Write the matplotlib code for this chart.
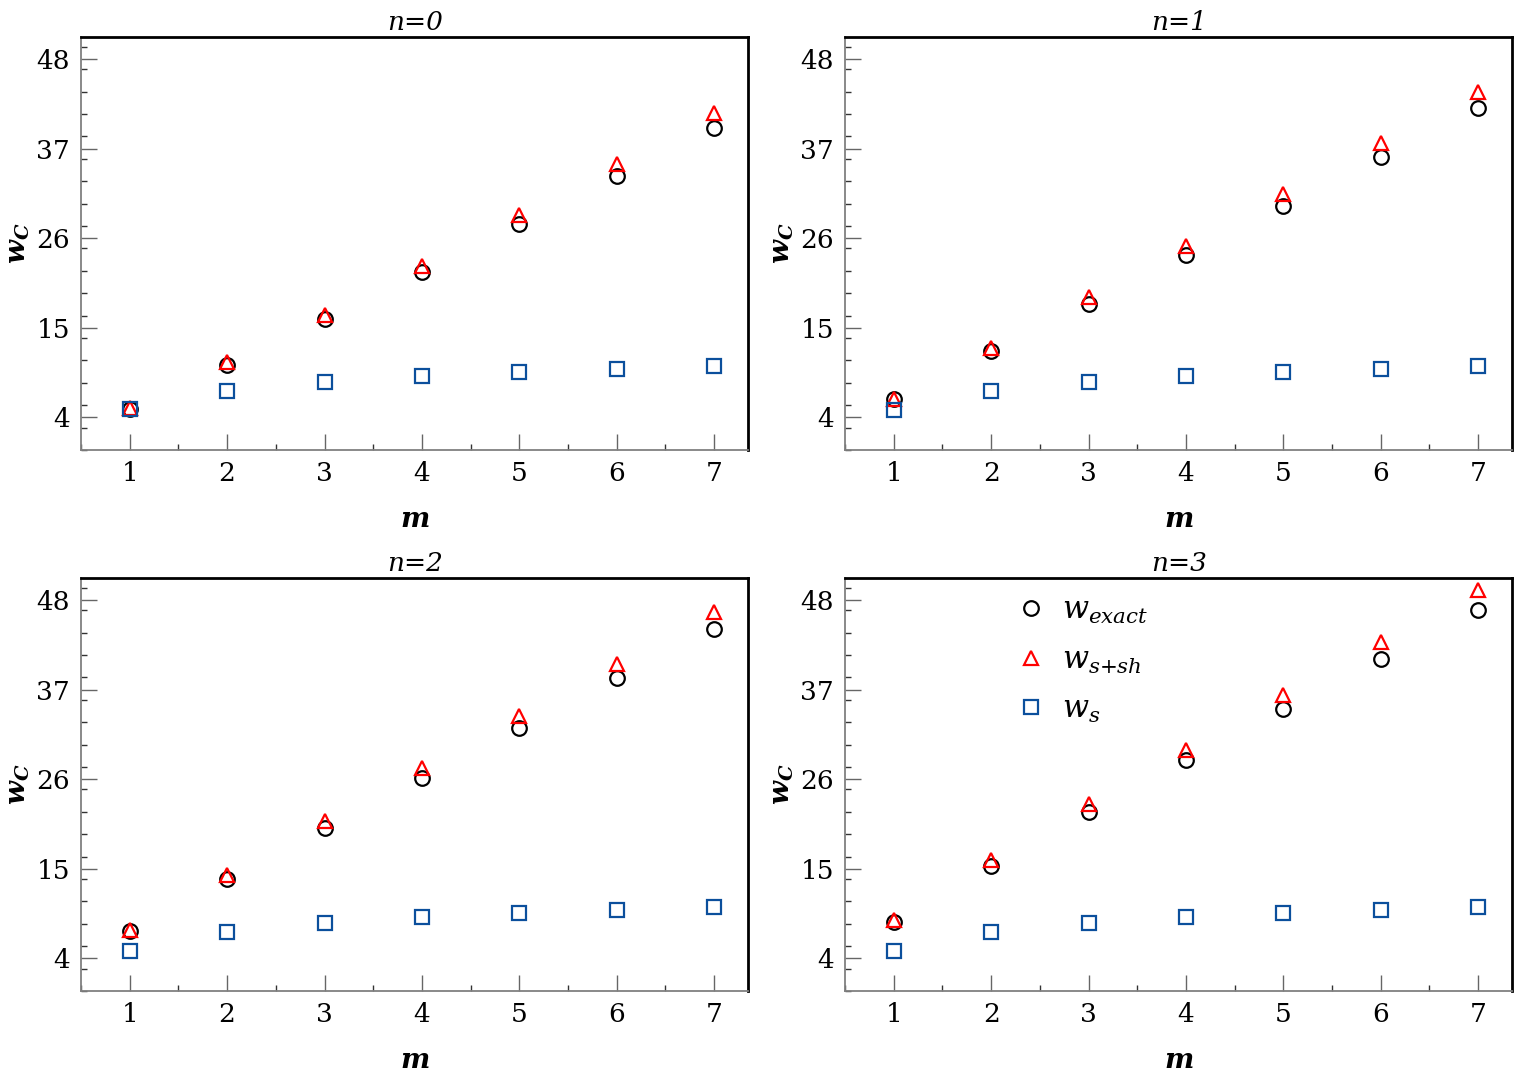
import matplotlib
matplotlib.use("Agg")
import matplotlib.pyplot as plt
from matplotlib.ticker import MultipleLocator

plt.rcParams['font.family'] = ['DejaVu Serif']
plt.rcParams['mathtext.fontset'] = 'custom'
plt.rcParams['mathtext.rm'] = 'DejaVu Serif'
plt.rcParams['mathtext.it'] = 'DejaVu Serif:italic'
plt.rcParams['mathtext.bf'] = 'DejaVu Serif:bold:italic'

# data
m = [1, 2, 3, 4, 5, 6, 7]
panel_titles = ["n=0", "n=1", "n=2", "n=3"]

w_exact = [
    [5.0, 10.4, 16.1, 21.9, 27.7, 33.6, 39.5],
    [6.25, 12.1, 17.9, 24.0, 30.0, 36.0, 42.0],
    [7.4, 13.75, 20.0, 26.2, 32.3, 38.4, 44.5],
    [8.5, 15.4, 22.0, 28.4, 34.6, 40.8, 46.8],
]
w_s_sh = [
    [5.1, 10.8, 16.6, 22.6, 28.9, 35.1, 41.4],
    [6.3, 12.5, 18.8, 25.0, 31.4, 37.7, 44.0],
    [7.5, 14.2, 20.9, 27.4, 33.8, 40.1, 46.5],
    [8.7, 16.1, 22.9, 29.6, 36.3, 42.8, 49.2],
]
w_s = [
    [5.0, 7.2, 8.4, 9.1, 9.6, 10.0, 10.3],
    [4.9, 7.2, 8.4, 9.1, 9.6, 10.0, 10.3],
    [4.9, 7.2, 8.3, 9.1, 9.6, 10.0, 10.3],
    [4.9, 7.2, 8.3, 9.1, 9.6, 10.0, 10.3],
]
y_ticks = [4, 15, 26, 37, 48]

blue = '#0b4f9c'
fig = plt.figure(figsize=(15.15, 10.8), dpi=100)

positions = [
    [0.0535, 0.5833, 0.4403, 0.3824],
    [0.5578, 0.5833, 0.4403, 0.3824],
    [0.0535, 0.0824, 0.4403, 0.3824],
    [0.5578, 0.0824, 0.4403, 0.3824],
]

for i in range(4):
    ax = fig.add_axes(positions[i])
    ax.plot(m, w_exact[i], linestyle='none', marker='o', markersize=10.5,
            markerfacecolor='none', markeredgecolor='black', markeredgewidth=1.6,
            label=r'$w_{exact}$')
    ax.plot(m, w_s_sh[i], linestyle='none', marker='^', markersize=10.5,
            markerfacecolor='none', markeredgecolor='red', markeredgewidth=1.6,
            label=r'$w_{s{+}sh}$')
    ax.plot(m, w_s[i], linestyle='none', marker='s', markersize=10,
            markerfacecolor='none', markeredgecolor=blue, markeredgewidth=1.6,
            label=r'$w_s$')

    ax.set_xlim(0.5, 7.35)
    ax.set_ylim(0, 50.7)
    ax.set_xticks(m)
    ax.set_yticks(y_ticks)
    ax.xaxis.set_minor_locator(MultipleLocator(0.5))
    ax.yaxis.set_minor_locator(MultipleLocator(2.75))

    ax.tick_params(which='major', direction='in', length=11.5, width=1.0,
                   color='#666666', labelsize=19, pad=8)
    ax.tick_params(which='minor', direction='in', length=4.5, width=1.0,
                   color='#333333')
    ax.tick_params(top=False, right=False, which='both')

    for side in ['left', 'bottom']:
        ax.spines[side].set_color('#808080')
        ax.spines[side].set_linewidth(1.3)
    for side in ['top', 'right']:
        ax.spines[side].set_color('black')
        ax.spines[side].set_linewidth(2.0)

    ax.set_title(panel_titles[i], fontsize=19, fontstyle='italic', pad=5)
    ax.set_xlabel(r'$\mathbf{m}$', fontsize=20, labelpad=14)
    ax.set_ylabel(r'$\mathbf{w_C}$', fontsize=20, labelpad=3)

    if i == 3:
        ax.legend(loc='upper left', bbox_to_anchor=(0.21, 1.025), frameon=False,
                  fontsize=22, labelspacing=0.6, handletextpad=0.4,
                  handlelength=1.2)

fig.savefig('out.png', dpi=100)
